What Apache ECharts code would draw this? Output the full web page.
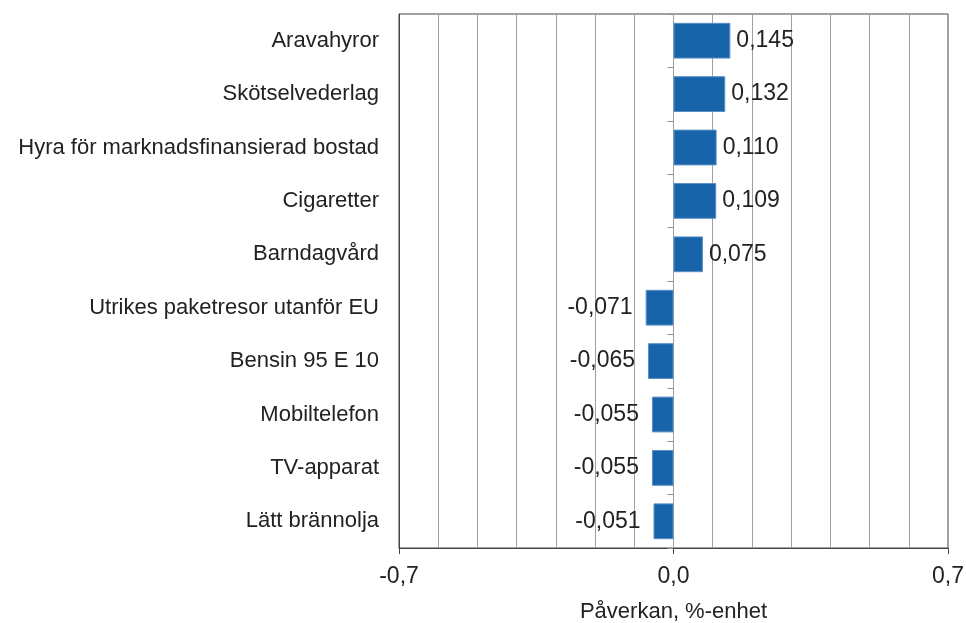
<!DOCTYPE html>
<html><head><meta charset="utf-8">
<script src="https://cdn.jsdelivr.net/npm/echarts@6/dist/echarts.min.js"></script>
<style>html,body{margin:0;padding:0;background:#fff}#c{width:966px;height:623px}</style>
</head><body><div id="c"></div>
<script>
var categories = ["Aravahyror","Skötselvederlag","Hyra för marknadsfinansierad bostad","Cigaretter","Barndagvård","Utrikes paketresor utanför EU","Bensin 95 E 10","Mobiltelefon","TV-apparat","Lätt brännolja"];
var values = [0.145,0.132,0.110,0.109,0.075,-0.071,-0.065,-0.055,-0.055,-0.051];
var tickLabels = [-0.7, 0.0, 0.7];
var axisTitle = "Påverkan, %-enhet";
function fmt(v, d){ return v.toFixed(d).replace('.', ','); }
var font = "'Liberation Sans', Arial, sans-serif";
var chart = echarts.init(document.getElementById('c'));
chart.setOption({
  animation: false,
  grid: {left: 399, right: 18, top: 14, bottom: 75, show: true, borderColor: '#444', borderWidth: 1,
    containLabel: false, outerBoundsMode: 'none'},
  xAxis: [{
    type: 'value', min: -0.7, max: 0.7, interval: 0.1,
    axisLine: {show: false}, axisTick: {show: false}, axisLabel: {show: false},
    splitLine: {show: true, lineStyle: {color: '#a0a0a0', width: 1}}
  },{
    type: 'value', min: tickLabels[0], max: tickLabels[2], interval: tickLabels[2], position: 'bottom',
    axisLine: {show: true, onZero: false, lineStyle: {color: '#444'}},
    axisTick: {show: true, length: 6, lineStyle: {color: '#444'}},
    splitLine: {show: false},
    axisLabel: {fontFamily: font, fontSize: 23, color: '#222', margin: 17,
      formatter: function(v){ return fmt(v, 1); }},
    name: axisTitle, nameLocation: 'middle', nameGap: 53,
    nameTextStyle: {fontFamily: font, fontSize: 22, color: '#222'}
  }],
  yAxis: [{
    type: 'category', data: categories, inverse: true,
    axisLine: {show: true, onZero: false, lineStyle: {color: '#444'}},
    axisTick: {show: false},
    axisLabel: {fontFamily: font, fontSize: 22, color: '#222', margin: 20}
  },{
    type: 'category', data: categories, inverse: true, position: 'left',
    axisLine: {show: true, onZero: true, onZeroAxisIndex: 0, lineStyle: {color: '#a0a0a0'}},
    axisTick: {show: true, length: 6, lineStyle: {color: '#909090'}},
    axisLabel: {show: false}
  }],
  series: [{
    type: 'bar', xAxisIndex: 0, yAxisIndex: 0, barWidth: '67%',
    itemStyle: {color: '#1764ab', borderColor: '#5b8fc6', borderWidth: 1},
    data: values.map(function(v){
      return {value: v, label: {position: v >= 0 ? 'right' : 'left', distance: v >= 0 ? 6 : 13}};
    }),
    label: {show: true, fontFamily: font, fontSize: 23, color: '#222',
      formatter: function(p){ return fmt(p.value, 3); }}
  }]
});
</script></body></html>
